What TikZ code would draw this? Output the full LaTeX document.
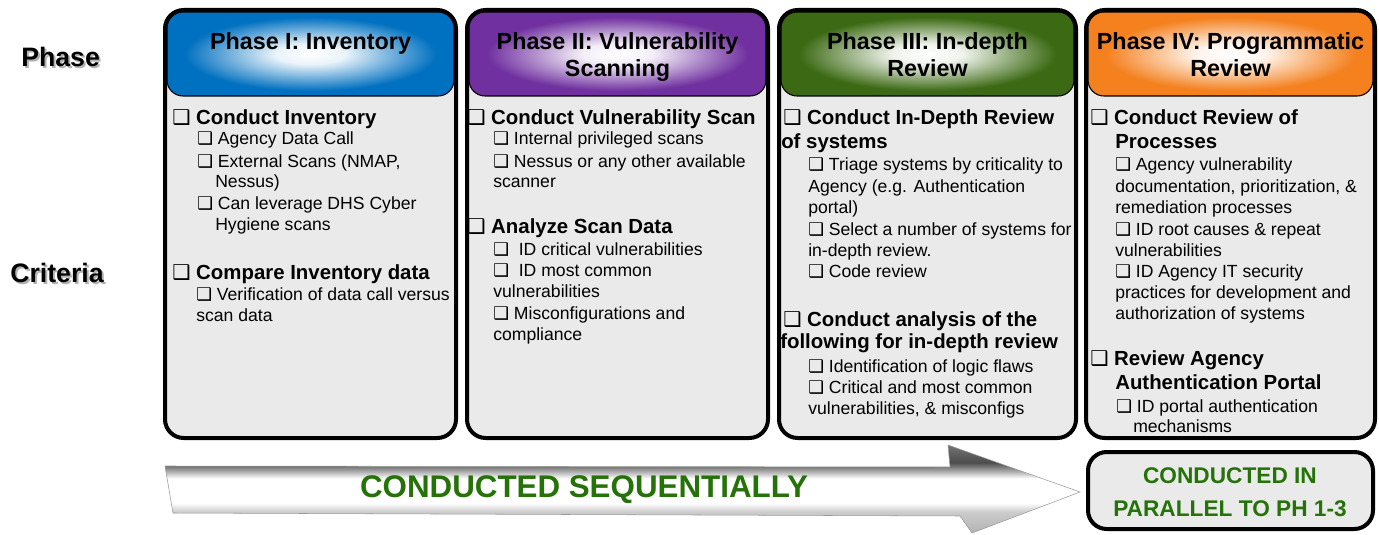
\documentclass[tikz,border=0pt]{standalone}
\usepackage{fontspec}
\setmainfont{Liberation Sans}
\newfontfamily\symfont{DejaVu Sans}
\usepackage{tikz}
\usetikzlibrary{positioning}

\definecolor{phblue}{RGB}{0,112,192}
\definecolor{phpurple}{RGB}{112,48,160}
\definecolor{phgreen}{RGB}{60,106,20}
\definecolor{phorange}{RGB}{244,128,30}
\definecolor{bodygray}{RGB}{234,234,234}
\definecolor{seqgreen}{RGB}{36,114,8}
\colorlet{glowcolor}{phblue}

\newcommand{\cb}{{\symfont\char"2751}}

\pgfdeclareradialshading[glowcolor]{glow}{\pgfpoint{0bp}{0bp}}{color(0bp)=(white); color(6bp)=(white!92!glowcolor); color(22bp)=(glowcolor); color(50bp)=(glowcolor)}
% y runs downwards here, so 0bp is the top of the arrow
\pgfdeclareverticalshading{arrowshade}{100bp}{color(0bp)=(black!30); color(25bp)=(black!30); color(37bp)=(black!20); color(42bp)=(white); color(56bp)=(white); color(61bp)=(black!40); color(65bp)=(black!70); color(75bp)=(black!55); color(100bp)=(black!55)}

\begin{document}
\begin{tikzpicture}[
  x=0.75pt,y=-0.75pt,
  frame/.style={line width=3pt,rounded corners=14pt},
  header/.style={draw=black,line width=0.8pt,rounded corners=12pt,
    /utils/exec={\colorlet{glowcolor}{#1}},shading=glow},
  title/.style={font=\bfseries\fontsize{17.5}{21}\selectfont,anchor=base,inner sep=0pt},
  crit/.style={font=\bfseries\fontsize{15.3}{18}\selectfont,anchor=base west,inner sep=0pt},
  sub/.style={font=\fontsize{13.2}{16}\selectfont,anchor=base west,inner sep=0pt},
  side/.style={font=\bfseries\fontsize{20}{24}\selectfont,anchor=base west,inner sep=0pt},
  banner/.style={font=\bfseries\fontsize{23.5}{28}\selectfont,text=seqgreen,anchor=base,inner sep=0pt},
  par/.style={font=\bfseries\fontsize{17}{20}\selectfont,text=seqgreen,anchor=base,inner sep=0pt}]
  \useasboundingbox (0,0) rectangle (1379,535);

  % row labels
  \node[side,text=black!30] (phase-s) at (23,69) {Phase};
  \node[side] (phase) at (21,67) {Phase};
  \node[side,text=black!30] (criteria-s) at (12,284) {Criteria};
  \node[side] (criteria) at (10,282) {Criteria};

  % the four phase columns
  \foreach \a/\b/\col in {165/456/phblue,467/768/phpurple,779/1076/phgreen,1086/1375/phorange}{
    \fill[frame,bodygray] (\a,10) rectangle (\b,438);
    \path[header=\col] (\a+2,12) rectangle (\b-2,96);
    \draw[frame] (\a,10) rectangle (\b,438);
  }
  \node[title] (t1) at (310.5,50) {Phase I: Inventory};
  \node[title] (t2a) at (617.5,50) {Phase II: Vulnerability};
  \node[title] (t2b) at (617.5,77) {Scanning};
  \node[title] (t3a) at (927.5,50) {Phase III: In-depth};
  \node[title] (t3b) at (927.5,77) {Review};
  \node[title] (t4a) at (1230.5,50) {Phase IV: Programmatic};
  \node[title] (t4b) at (1230.5,77) {Review};

  % phase I
  \foreach \x/\y/\t [count=\i] in {172/124/{\cb\ Conduct Inventory},
      172/279/{\cb\ Compare Inventory data}}
    \node[crit] (a\i) at (\x,\y) {\t};
  \foreach \x/\y/\t [count=\i] in {197/145/{\cb\ Agency Data Call},
      197/167/{\cb\ External Scans (NMAP,},215/187/{Nessus)},
      197/209/{\cb\ Can leverage DHS Cyber},215/230/{Hygiene scans},
      196/300/{\cb\ Verification of data call versus},196/321/{scan data}}
    \node[sub] (as\i) at (\x,\y) {\t};

  % phase II
  \foreach \x/\y/\t [count=\i] in {467/124/{\cb\ Conduct Vulnerability Scan},
      467/233/{\cb\ Analyze Scan Data}}
    \node[crit] (b\i) at (\x,\y) {\t};
  \foreach \x/\y/\t [count=\i] in {493/145/{\cb\ Internal privileged scans},
      493/167/{\cb\ Nessus or any other available},493/187/{scanner},
      493/255/{\cb\ \ ID critical vulnerabilities},493/276/{\cb\ \ ID most common},
      493/297/{vulnerabilities},493/319/{\cb\ Misconfigurations and},
      493/340/{compliance}}
    \node[sub] (bs\i) at (\x,\y) {\t};

  % phase III
  \foreach \x/\y/\t [count=\i] in {783/124/{\cb\ Conduct In-Depth Review},
      781/148/{of systems},783/326/{\cb\ Conduct analysis of the},
      780/348/{following for in-depth review}}
    \node[crit] (c\i) at (\x,\y) {\t};
  \foreach \x/\y/\t [count=\i] in {808/171/{\cb\ Triage systems by criticality to},
      808/192/{Agency (e.g. Authentication},808/213/{portal)},
      808/235/{\cb\ Select a number of systems for},808/256/{in-depth review.},
      808/277/{\cb\ Code review},808/372/{\cb\ Identification of logic flaws},
      808/393/{\cb\ Critical and most common},808/414/{vulnerabilities, \& misconfigs}}
    \node[sub] (cs\i) at (\x,\y) {\t};

  % phase IV
  \foreach \x/\y/\t [count=\i] in {1090/124/{\cb\ Conduct Review of},
      1115/148/{Processes},1090/365/{\cb\ Review Agency},
      1115/389/{Authentication Portal}}
    \node[crit] (d\i) at (\x,\y) {\t};
  \foreach \x/\y/\t [count=\i] in {1115/171/{\cb\ Agency vulnerability},
      1115/192/{documentation, prioritization, \&},1115/213/{remediation processes},
      1115/235/{\cb\ ID root causes \& repeat},1115/256/{vulnerabilities},
      1115/277/{\cb\ ID Agency IT security},1115/298/{practices for development and},
      1115/319/{authorization of systems},1116/412/{\cb\ ID portal authentication},
      1133/432/{mechanisms}}
    \node[sub] (ds\i) at (\x,\y) {\t};

  % sequence arrow and parallel box
  \path[shading=arrowshade,draw=black!40,line width=0.4pt]
    (165,466) -- (950,467) -- (948,445) -- (1080,492) -- (972,533)
    -- (960,516) -- (173,513) -- cycle;
  \node[banner] (seq) at (584,497) {CONDUCTED SEQUENTIALLY};
  \draw[frame,fill=bodygray] (1088,452) rectangle (1373,529);
  \node[par] (par1) at (1230,483) {CONDUCTED IN};
  \node[par] (par2) at (1230,516) {PARALLEL TO PH 1-3};
\end{tikzpicture}
\end{document}
